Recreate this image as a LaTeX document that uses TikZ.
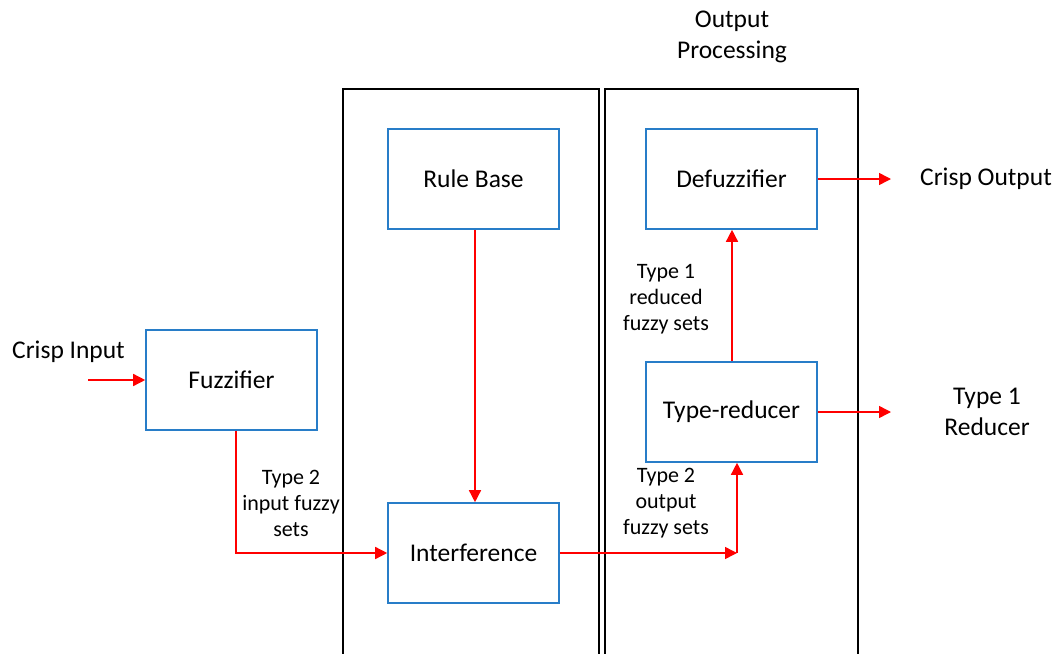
\documentclass[tikz,border=0pt]{standalone}
\usepackage{fontspec}
\setmainfont{Carlito}
\usetikzlibrary{arrows.meta}
\definecolor{boxblue}{RGB}{40,125,200}
\tikzset{
  block/.style={draw=boxblue, line width=1.6pt, minimum width=171pt, minimum height=100pt, inner sep=0pt, font=\fontsize{25.5}{31}\selectfont},
  stage/.style={draw=black, line width=1.6pt},
  flow/.style={draw=red, line width=1.5pt, -{Triangle[length=12pt,width=12pt]}},
  note/.style={align=center, inner sep=0pt, font=\fontsize{22}{26}\selectfont},
  big/.style={align=center, inner sep=0pt, font=\fontsize{25.5}{31}\selectfont}
}
\begin{document}
\begin{tikzpicture}[x=1pt, y=-1pt]
\useasboundingbox (0,0) rectangle (1057,653);
% stage frames, open at the bottom
\draw[stage] (343,660) -- (343,89) -- (599,89) -- (599,660);
\draw[stage] (605,660) -- (605,89) -- (858,89) -- (858,660);

% blocks
\node[block] (fuzz)  at (231.5,380) {Fuzzifier};
\node[block] (rule)  at (473.5,179) {Rule Base};
\node[block] (inter) at (473.5,553) {Interference};
\node[block] (defuz) at (731.5,179) {Defuzzifier};
\node[block] (tred)  at (731.5,412) {Type-reducer};

% free labels
\node[big] (outproc) at (732,37) {Output\\Processing};
\node[big, anchor=west] (cin) at (12,352) {Crisp Input};
\node[big, anchor=west] (cout) at (920,179) {Crisp Output};
\node[big] (t1r) at (987,412) {Type 1\\Reducer};

\node[note] (lin)  at (291,503) {Type 2\\input fuzzy\\sets};
\node[note] (lout) at (666,503) {Type 2\\output\\fuzzy sets};
\node[note] (lred) at (666,299) {Type 1\\reduced\\fuzzy sets};

% connector points
\coordinate (inStart) at (88,380);
\coordinate (fzCorner) at (236,553);
\coordinate (ruleX) at (475,0);
\coordinate (redX) at (732,0);
\coordinate (join) at (737,553);
\coordinate (coutEnd) at (891,179);
\coordinate (t1End) at (891,412);

% connectors
\draw[flow] (inStart) -- (fuzz.west |- inStart);
\draw[flow] (fuzz.south -| fzCorner) -- (fzCorner) -- (inter.west);
\draw[flow] (rule.south -| ruleX) -- (inter.north -| ruleX);
\draw[flow] (inter.east) -- (join);
\draw[flow] (join) -- (tred.south -| join);
\draw[flow] (tred.north -| redX) -- (defuz.south -| redX);
\draw[flow] (defuz.east) -- (coutEnd);
\draw[flow] (tred.east) -- (t1End);
\end{tikzpicture}
\end{document}
